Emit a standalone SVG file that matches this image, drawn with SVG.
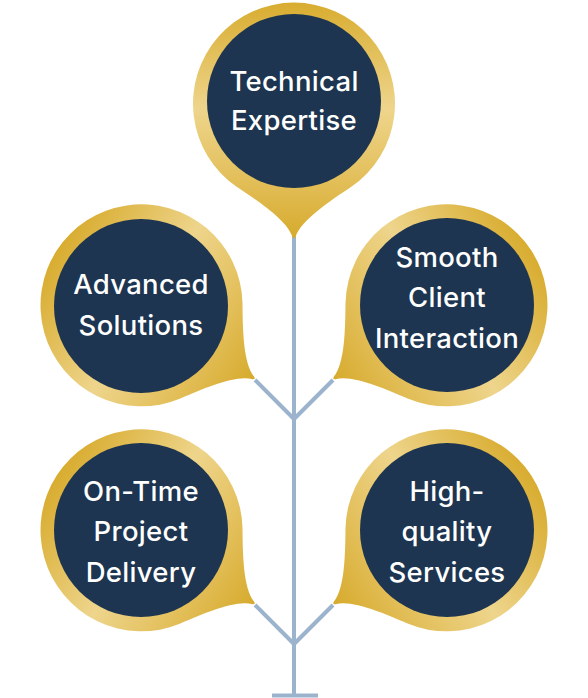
<svg xmlns="http://www.w3.org/2000/svg" width="588" height="698" viewBox="0 0 588 698">
<defs>
<linearGradient id="gold" gradientUnits="userSpaceOnUse" x1="0" y1="-101" x2="0" y2="136">
<stop offset="0" stop-color="#D8AC2F"/>
<stop offset="0.45" stop-color="#EED58C"/>
<stop offset="0.75" stop-color="#E3BF5A"/>
<stop offset="1" stop-color="#D6AA2C"/>
</linearGradient>
<path id="pin" d="M -57,84 A 101 101 0 1 1 57,84 C 36,98 7,117 1.5,134 Q 0,137 -1.5,134 C -7,117 -36,98 -57,84 Z" fill="url(#gold)"/>
</defs>
<style>
.ln{stroke:#9BB3CC;stroke-width:4;fill:none}
.in{fill:#1D3550}
.t{font-family:Inter,"Open Sans","Liberation Sans",sans-serif;font-size:27.5px;font-weight:500;letter-spacing:0.3px;fill:#FFFFFF;text-anchor:middle}
</style>
<g id="connectors">
<line class="ln" x1="294" y1="230" x2="294" y2="696"/>
<line class="ln" x1="272" y1="695.5" x2="318" y2="695.5"/>
<line class="ln" x1="294" y1="419" x2="255" y2="380"/>
<line class="ln" x1="294" y1="419" x2="333" y2="380"/>
<line class="ln" x1="294" y1="644" x2="255" y2="605"/>
<line class="ln" x1="294" y1="644" x2="333" y2="605"/>
</g>
<g id="technical-expertise">
<g transform="translate(294,103)"><use href="#pin"/></g>
<circle class="in" cx="294" cy="101" r="87"/>
<text class="t" x="294" y="91">Technical</text>
<text class="t" x="294" y="130">Expertise</text>
</g>
<g id="advanced-solutions">
<g transform="translate(141,305) rotate(-57)"><use href="#pin"/></g>
<circle class="in" cx="141" cy="306" r="87"/>
<text class="t" x="141" y="294">Advanced</text>
<text class="t" x="141" y="335">Solutions</text>
</g>
<g id="smooth-client-interaction">
<g transform="translate(447,305) rotate(57)"><use href="#pin"/></g>
<circle class="in" cx="447" cy="305" r="87"/>
<text class="t" x="447" y="267">Smooth</text>
<text class="t" x="447" y="307">Client</text>
<text class="t" x="447" y="348">Interaction</text>
</g>
<g id="on-time-project-delivery">
<g transform="translate(141,530) rotate(-57)"><use href="#pin"/></g>
<circle class="in" cx="141" cy="530" r="87"/>
<text class="t" x="141" y="501">On-Time</text>
<text class="t" x="141" y="541">Project</text>
<text class="t" x="141" y="582">Delivery</text>
</g>
<g id="high-quality-services">
<g transform="translate(447,530) rotate(57)"><use href="#pin"/></g>
<circle class="in" cx="447" cy="530" r="87"/>
<text class="t" x="447" y="501">High-</text>
<text class="t" x="447" y="541">quality</text>
<text class="t" x="447" y="582">Services</text>
</g>
</svg>
